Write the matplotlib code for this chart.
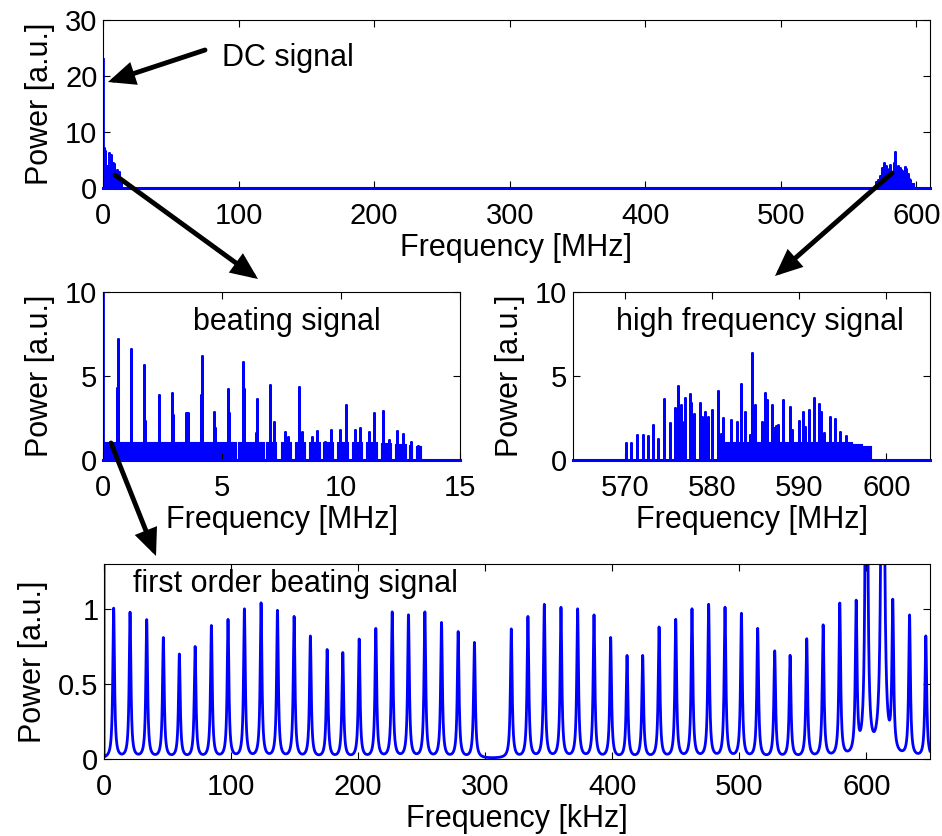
import numpy as np
import matplotlib
matplotlib.use("Agg")
import matplotlib.pyplot as plt
from matplotlib.patches import FancyArrowPatch

plt.rcParams['font.family'] = ['Liberation Sans', 'DejaVu Sans']
plt.rcParams['font.size'] = 22

BLUE = (0, 0, 1)

# DC component (same for all panels)
dc_power = 23.0

# beating lines below 15 MHz (MHz, a.u.)
beat_f = [0.600, 0.613, 1.16, 1.18, 1.74, 1.76, 2.35, 2.37, 2.90, 2.93,
          3.50, 3.57, 4.12, 4.15, 4.68, 4.72, 5.26, 5.30, 5.87, 5.91,
          6.43, 6.47, 7.02, 7.17, 7.63, 7.79, 8.22, 8.38, 8.80, 9.00,
          9.34, 9.58, 9.97, 10.22, 10.58, 10.81, 11.17, 11.40, 11.75, 12.01,
          12.37, 12.62, 12.93, 13.24]
beat_p = [4.3, 7.2, 6.6, 4.95, 5.65, 2.35, 1.6, 3.85, 3.97, 2.66,
          2.82, 2.82, 3.85, 6.19, 2.88, 1.92, 4.2, 2.82, 5.81, 4.24,
          1.63, 3.63, 4.45, 2.28, 1.65, 1.35, 4.32, 1.65, 1.39, 1.71,
          1.1, 1.8, 1.8, 3.3, 1.8, 1.92, 1.69, 2.82, 2.94, 1.21,
          1.75, 1.55, 1.05, 0.85]
# dense first order comb: (start MHz, stop MHz, level)
beat_comb = [(0.0, 5.58, 1.05), (5.66, 6.21, 1.05), (6.28, 6.77, 1.05),
             (6.84, 7.27, 1.05), (7.48, 7.90, 1.05), (8.06, 8.47, 1.05),
             (8.64, 9.10, 1.05), (9.26, 9.67, 1.05), (9.83, 10.30, 1.05),
             (10.45, 10.90, 1.05), (11.07, 11.53, 1.05), (11.69, 12.10, 1.0),
             (12.27, 12.74, 0.95), (12.86, 13.00, 0.9), (13.17, 13.35, 0.85)]

# high frequency lines (MHz, a.u.)
hf_f = [570.1, 570.7, 571.3, 572.0, 572.6, 573.2, 573.8, 574.4, 575.1, 575.7,
        576.1, 576.4, 576.8, 576.9, 577.4, 577.6, 577.9, 578.6, 578.8, 579.2,
        579.5, 580.0, 580.6, 581.0, 581.2, 582.2, 582.8, 583.3, 583.7, 584.3,
        584.5, 584.9, 585.7, 586.1, 586.3, 586.8, 587.1, 587.3, 587.5, 588.1,
        588.9, 589.2, 589.9, 590.4, 590.6, 591.1, 591.7, 592.2, 592.5, 592.8,
        593.5, 594.1, 594.7, 595.3]
hf_p = [1.02, 1.02, 1.48, 1.48, 1.44, 2.1, 1.24, 3.66, 2.2, 3.1,
        4.38, 3.26, 2.24, 3.72, 3.9, 3.42, 2.76, 3.38, 2.58, 2.86,
        2.56, 3.0, 4.08, 1.56, 2.48, 2.38, 2.28, 4.5, 2.86, 1.48,
        6.36, 3.26, 2.24, 3.96, 3.56, 3.28, 1.9, 2.0, 2.06, 3.6,
        3.16, 1.8, 2.32, 2.84, 1.96, 2.96, 3.7, 3.34, 2.86, 1.6,
        2.54, 2.42, 1.68, 1.4]
hf_comb = [(581.0, 596.0, 1.05), (596.0, 597.2, 0.95), (597.2, 598.2, 0.85)]

# first order beating peaks (kHz, a.u.)
fob_f = [7.6, 20.5, 33.6, 46.7, 59.3, 71.7, 84.5, 97.6, 110.5, 123.6,
         136.5, 149.6, 162.4, 175.6, 187.9, 200.8, 213.9, 226.8, 239.6, 252.5,
         265.6, 278.7, 291.5, 320.5, 333.6, 346.5, 359.6, 372.7, 385.6, 398.7,
         411.6, 423.9, 436.8, 449.9, 462.7, 475.8, 488.7, 501.6, 514.4, 527.8,
         539.9, 553.0, 565.9, 579.0, 591.9, 600.0, 612.8, 620.7, 633.9, 646.7]
fob_p = [1.0, 0.97, 0.92, 0.8, 0.69, 0.74, 0.88, 0.92, 0.99, 1.03,
         0.98, 0.94, 0.81, 0.72, 0.7, 0.79, 0.86, 0.97, 0.95, 0.97,
         0.9, 0.84, 0.77, 0.86, 0.94, 1.02, 1.0, 0.99, 0.95, 0.8,
         0.68, 0.68, 0.87, 0.92, 0.99, 1.02, 1.0, 0.96, 0.86, 0.71,
         0.68, 0.79, 0.88, 1.02, 1.0, 4.3, 7.2, 0.98, 0.94, 0.81]
linewidth_khz = 0.8


def spikes(f, p):
    x = np.repeat(np.asarray(f, float), 3)
    y = np.zeros(len(x))
    y[1::3] = p
    return x, y


def draw_lines(ax, f, p, comb, dc=False):
    for a, b, lvl in comb:
        ax.fill_between([a, b], [lvl, lvl], color=BLUE, lw=0.8)
    x, y = spikes(f, p)
    ax.plot(x, y, color=BLUE, lw=2)
    if dc:
        ax.plot([0, 0], [0, dc_power], color=BLUE, lw=2)
    ax.axhline(0, color=BLUE, lw=2.2, zorder=3, clip_on=False)


def style(ax, xlim, ylim, xticks, yticks, xlabel):
    ax.set_xlim(*xlim)
    ax.set_ylim(*ylim)
    ax.set_xticks(xticks)
    ax.set_yticks(yticks)
    ax.tick_params(direction='in', top=True, right=True, length=5, width=0.8,
                   labelsize=21)
    ax.tick_params(axis='x', pad=10)
    ax.tick_params(axis='y', pad=4)
    ax.set_xlabel(xlabel, labelpad=2)
    ax.set_ylabel('Power [a.u.]', labelpad=7)


fig = plt.figure(figsize=(9.42, 8.36), dpi=100)
W, H = 942, 836


def px_axes(left, top, right, bottom):
    return fig.add_axes([left / W, 1 - bottom / H, (right - left) / W, (bottom - top) / H])


ax_top = px_axes(103, 20, 930, 188)
ax_beat = px_axes(103, 292, 460, 460)
ax_hf = px_axes(573, 292, 930, 460)
ax_fob = px_axes(104, 564, 930, 759)

# full spectrum
draw_lines(ax_top, beat_f + hf_f, beat_p + hf_p, beat_comb + hf_comb, dc=True)
style(ax_top, (0, 610), (0, 30), range(0, 601, 100), [0, 10, 20, 30], 'Frequency [MHz]')

# beating signal
draw_lines(ax_beat, beat_f, beat_p, beat_comb, dc=True)
style(ax_beat, (0, 15), (0, 10), [0, 5, 10, 15], [0, 5, 10], 'Frequency [MHz]')
ax_beat.text(0.515, 0.82, 'beating signal', transform=ax_beat.transAxes,
             ha='center', va='center')

# high frequency signal
draw_lines(ax_hf, hf_f, hf_p, hf_comb)
style(ax_hf, (564, 605), (0, 10), [570, 580, 590, 600], [0, 5, 10], 'Frequency [MHz]')
ax_hf.text(0.524, 0.82, 'high frequency signal', transform=ax_hf.transAxes,
           ha='center', va='center')

# first order beating signal, Lorentzian line shapes
f_khz = np.arange(0.05, 650.01, 0.05)
power = np.zeros_like(f_khz)
for f0, p0 in zip(fob_f, fob_p):
    power += p0 * linewidth_khz ** 2 / (linewidth_khz ** 2 + (f_khz - f0) ** 2)
ax_fob.plot(np.r_[0.0, f_khz], np.r_[dc_power, power], color=BLUE, lw=2)
style(ax_fob, (0, 650), (0, 1.3), range(0, 601, 100), [0, 0.5, 1], 'Frequency [kHz]')
ax_fob.set_yticklabels(['0', '0.5', '1'])
ax_fob.text(0.232, 0.897, 'first order beating signal', transform=ax_fob.transAxes,
            ha='center', va='center')

fig.text(222 / W, 1 - 58 / H, 'DC signal', va='center')

# arrows between panels (pixel positions: tail, head)
arrows = [((205, 50), (108, 82)),
          ((115, 175), (258, 279)),
          ((892, 173), (775, 276)),
          ((111, 443), (156, 556))]
for (x0, y0), (x1, y1) in arrows:
    fig.add_artist(FancyArrowPatch((x0 / W, 1 - y0 / H), (x1 / W, 1 - y1 / H),
                                   transform=fig.transFigure,
                                   arrowstyle='-|>,head_length=0.8,head_width=0.35',
                                   mutation_scale=17, lw=3.5, color='k',
                                   shrinkA=0, shrinkB=0, joinstyle='miter'))

fig.savefig('out.png', dpi=100)
